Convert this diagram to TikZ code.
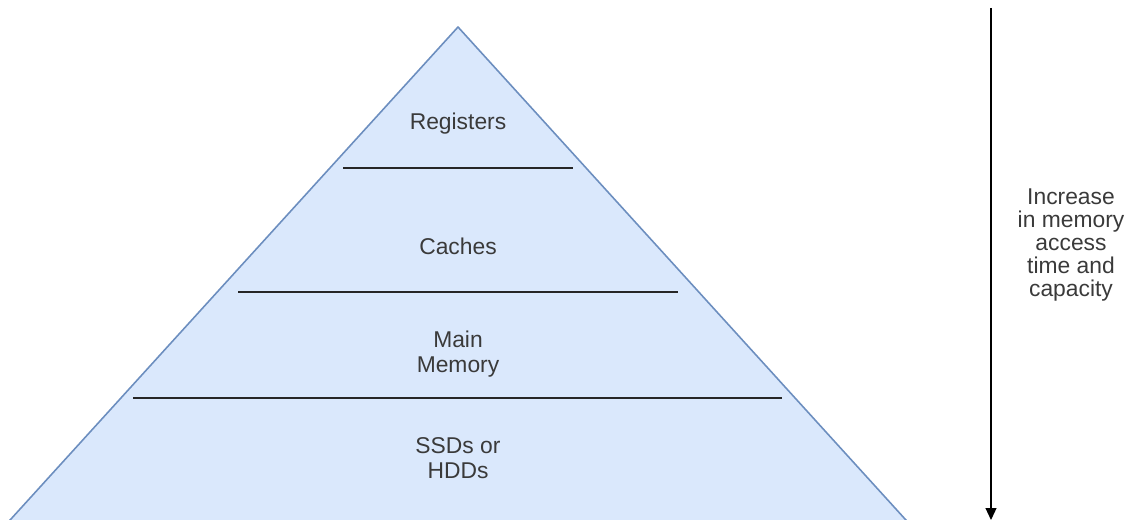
\documentclass[tikz,border=0pt]{standalone}
\usepackage{fontspec}
\setmainfont{Liberation Sans}
\usetikzlibrary{arrows.meta,positioning}
\definecolor{pyrfill}{HTML}{DAE8FC}
\definecolor{pyrline}{HTML}{6C8EBF}
\definecolor{txtgray}{HTML}{3A3A3A}
\tikzset{
  level/.style   = {align=center, text=txtgray, font=\fontsize{13}{14.5}\selectfont, inner sep=0pt},
  divider/.style = {line width=0.6pt, black!85},
  axis/.style    = {-{Triangle[length=2.4mm,width=2.2mm]}, line width=0.7pt, black},
}
\begin{document}
\begin{tikzpicture}[x=0.02cm,y=-0.02cm]
\useasboundingbox (0,0) rectangle (1139,520);
\clip (0,0) rectangle (1139,520);
% --- pyramid ------------------------------------------------------------
\coordinate (apex) at (458,27);
\coordinate (bl) at (1,530);
\coordinate (br) at (915,530);
\draw[fill=pyrfill, draw=pyrline, line width=0.9pt, line join=round] (apex) -- (br) -- (bl) -- cycle;
% --- level dividers -----------------------------------------------------
\draw[divider] (343,168) coordinate (d1l) -- (573,168) coordinate (d1r);
\draw[divider] (238,292) coordinate (d2l) -- (678,292) coordinate (d2r);
\draw[divider] (133,398) coordinate (d3l) -- (782,398) coordinate (d3r);
% --- level labels -------------------------------------------------------
\node[level] (reg) at (458,124) {Registers};
\node[level] (cache) at (458,246) {Caches};
\node[level] (mem) at (458,354) {Main\\Memory};
\node[level] (disk) at (458,458) {SSDs or\\HDDs};
% --- access time arrow --------------------------------------------------
\coordinate (top) at (991,8);
\coordinate (bot) at (991,520);
\draw[axis] (top) -- (bot);
\node[level, font=\fontsize{13}{13}\selectfont] (note) at (1071,245) {Increase\\in memory\\access\\time and\\capacity};
\end{tikzpicture}
\end{document}
